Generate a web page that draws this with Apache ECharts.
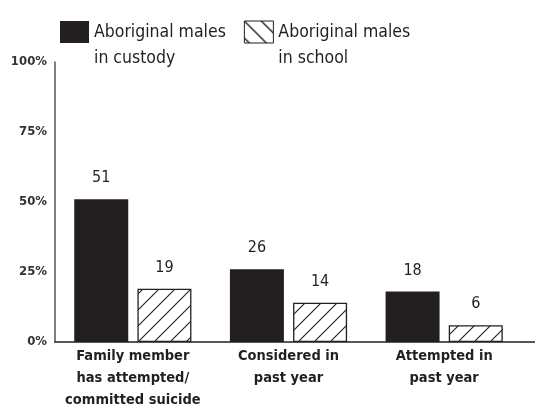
<!DOCTYPE html>
<html><head><meta charset="utf-8">
<script src="https://cdn.jsdelivr.net/npm/echarts@6/dist/echarts.min.js"></script>
<style>html,body{margin:0;padding:0;background:#fff}#c{width:535px;height:406px}</style>
</head><body><div id="c"></div>
<script>
const categories = ['Family member\nhas attempted/\ncommitted suicide', 'Considered in\npast year', 'Attempted in\npast year'];
const seriesNames = ['Aboriginal males\nin custody', 'Aboriginal males\nin school'];
const custody = [51, 26, 18];
const school = [19, 14, 6];
const yTicks = [0, 25, 50, 75, 100];

const INK = '#231f20';
const FONT = '"DejaVu Sans Condensed", "Liberation Sans Narrow", sans-serif';

function hatch(size, forward, lw) {
  const c = document.createElement('canvas');
  c.width = c.height = size;
  const g = c.getContext('2d');
  g.fillStyle = '#fff'; g.fillRect(0, 0, size, size);
  g.strokeStyle = INK; g.lineWidth = lw; g.beginPath();
  for (let k = -1; k <= 1; k++) {
    const o = k * size;
    if (forward) { g.moveTo(o - 1, size + 1); g.lineTo(o + size + 1, -1); }
    else { g.moveTo(o - 1, -1); g.lineTo(o + size + 1, size + 1); }
  }
  g.stroke();
  return c;
}
const barPattern = { image: hatch(16, true, 1.1), repeat: 'repeat' };
const legendPattern = { image: hatch(17, false, 1.4), repeat: 'repeat' };

const chart = echarts.init(document.getElementById('c'), null, { renderer: 'canvas' });
const labelStyle = { show: true, position: 'top', distance: 13, color: INK, fontFamily: FONT, fontSize: 16 };
chart.setOption({
  animation: false,
  grid: { left: 55, right: 13, top: 62, bottom: 64, outerBoundsMode: 'none', containLabel: false },
  legend: {
    left: 55, top: -12, itemWidth: 29, itemHeight: 22, itemGap: 18,
    icon: 'rect',
    formatter: name => ' \n' + name,
    textStyle: { fontFamily: FONT, fontSize: 17.5, color: INK, lineHeight: 26 },
    data: [
      { name: seriesNames[0] },
      { name: seriesNames[1], itemStyle: { color: legendPattern, borderColor: INK, borderWidth: 1 } }
    ]
  },
  xAxis: {
    type: 'category', data: categories,
    axisLine: { show: true, lineStyle: { color: INK, width: 1.5 } },
    axisTick: { show: false },
    axisLabel: { interval: 0, margin: 3, fontFamily: FONT, fontWeight: 'bold', fontSize: 14.5, lineHeight: 22, color: INK }
  },
  yAxis: {
    type: 'value', min: 0, max: 100, interval: 25,
    axisLine: { show: true, lineStyle: { color: '#555', width: 1.5 } },
    axisTick: { show: false }, splitLine: { show: false },
    axisLabel: { margin: 8, fontFamily: FONT, fontWeight: 'bold', fontSize: 13, color: '#333',
      formatter: v => yTicks.includes(v) ? v + '%' : '' }
  },
  series: [
    { name: seriesNames[0], type: 'bar', data: custody, barWidth: 54, barGap: '17%',
      itemStyle: { color: INK }, label: labelStyle },
    { name: seriesNames[1], type: 'bar', data: school, barWidth: 54,
      itemStyle: { color: barPattern, borderColor: INK, borderWidth: 1.3 }, label: labelStyle }
  ]
});
const p0 = chart.convertToPixel({ gridIndex: 0 }, [2, 0]);
const gridRight = 535 - 13;
chart.setOption({ graphic: [{ type: 'line', shape: { x1: gridRight, y1: p0[1], x2: 535, y2: p0[1] },
  style: { stroke: INK, lineWidth: 1.5 }, silent: true }] });
</script></body></html>
